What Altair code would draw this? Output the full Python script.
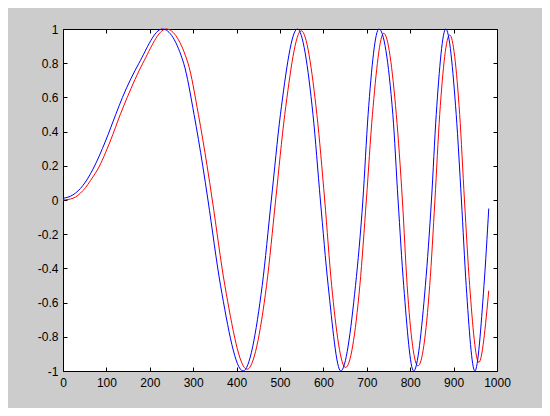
import altair as alt
import pandas as pd

# Values
blue_x = [0, 23, 46, 69, 98, 121.5, 137, 175, 229, 278, 302, 322, 334, 363, 415,
          459, 480, 501, 540, 576, 593, 611, 640, 674, 691, 703, 728, 760, 772,
          785, 808, 835, 849, 860, 882, 906, 918, 929, 949, 970, 981]
blue_y = [0.01, 0.03, 0.085, 0.18, 0.345, 0.5, 0.6, 0.8, 1.0, 0.8, 0.5, 0.2, 0, -0.5, -1,
          -0.5, 0, 0.5, 1, 0.5, 0, -0.5, -1, -0.5, 0, 0.5, 1, 0.5, 0,
          -0.5, -1, -0.5, 0, 0.5, 1, 0.5, 0, -0.5, -1, -0.5, -0.05]

red_x = [0, 23, 46, 69, 79, 109, 132, 148, 184, 238, 288, 312, 332, 344, 373, 424,
         469, 490, 511, 549, 585, 603, 619, 651, 684, 699, 713, 739, 768, 782,
         793, 818, 845, 857, 868, 891, 914, 925, 937, 958, 981]
red_y = [0.0, 0.01, 0.055, 0.135, 0.175, 0.345, 0.5, 0.6, 0.8, 1.0, 0.8, 0.5, 0.2, 0, -0.5, -0.99,
         -0.5, 0, 0.5, 0.99, 0.5, 0, -0.5, -0.98, -0.5, 0, 0.5, 0.975, 0.5, 0,
         -0.5, -0.97, -0.5, 0, 0.5, 0.965, 0.5, 0, -0.5, -0.95, -0.53]

x_ticks = [0, 100, 200, 300, 400, 500, 600, 700, 800, 900, 1000]
y_ticks = [-1, -0.8, -0.6, -0.4, -0.2, 0, 0.2, 0.4, 0.6, 0.8, 1]

blue_df = pd.DataFrame({"x": blue_x, "y": blue_y})
red_df = pd.DataFrame({"x": red_x, "y": red_y})

FONT = "Liberation Sans"
FS = 12

xscale = alt.Scale(domain=[0, 1000], nice=False, zero=False)
yscale = alt.Scale(domain=[-1, 1], nice=False, zero=False)

common_axis = dict(domain=False, grid=False, ticks=True, tickColor="black",
                   tickWidth=1, tickSize=4, offset=-4, title=None,
                   labelFlush=False, labelOverlap=False,
                   labelFont=FONT, labelFontSize=FS, labelColor="black")

ylabel = ("datum.value < 0 ? '-' + format(-datum.value, '.1~f') : "
          "format(datum.value, '.1~f')")

blue = alt.Chart(blue_df).mark_line(
    color="#0000ff", strokeWidth=1, interpolate="monotone"
).encode(
    x=alt.X("x:Q", scale=xscale,
            axis=alt.Axis(orient="bottom", values=x_ticks, labelPadding=6,
                          format="d", **common_axis)),
    y=alt.Y("y:Q", scale=yscale,
            axis=alt.Axis(orient="left", values=y_ticks, labelPadding=5,
                          labelExpr=ylabel, **common_axis)),
)

red = alt.Chart(red_df).mark_line(
    color="#ff0000", strokeWidth=1, interpolate="monotone"
).encode(
    x=alt.X("x:Q", scale=xscale,
            axis=alt.Axis(orient="top", values=x_ticks, labels=False, **common_axis)),
    y=alt.Y("y:Q", scale=yscale,
            axis=alt.Axis(orient="right", values=y_ticks, labels=False, **common_axis)),
)

chart = alt.layer(red, blue).resolve_axis(
    x="independent", y="independent"
).properties(
    width=434,
    height=342,
    autosize=alt.AutoSizeParams(type="none"),
    padding={"left": 55, "top": 21, "right": 45, "bottom": 37},
    background="#cccccc",
).configure_view(
    fill="white", stroke="black", strokeWidth=1
)

chart.save("out.html", embed_options={"renderer": "svg", "actions": False})
